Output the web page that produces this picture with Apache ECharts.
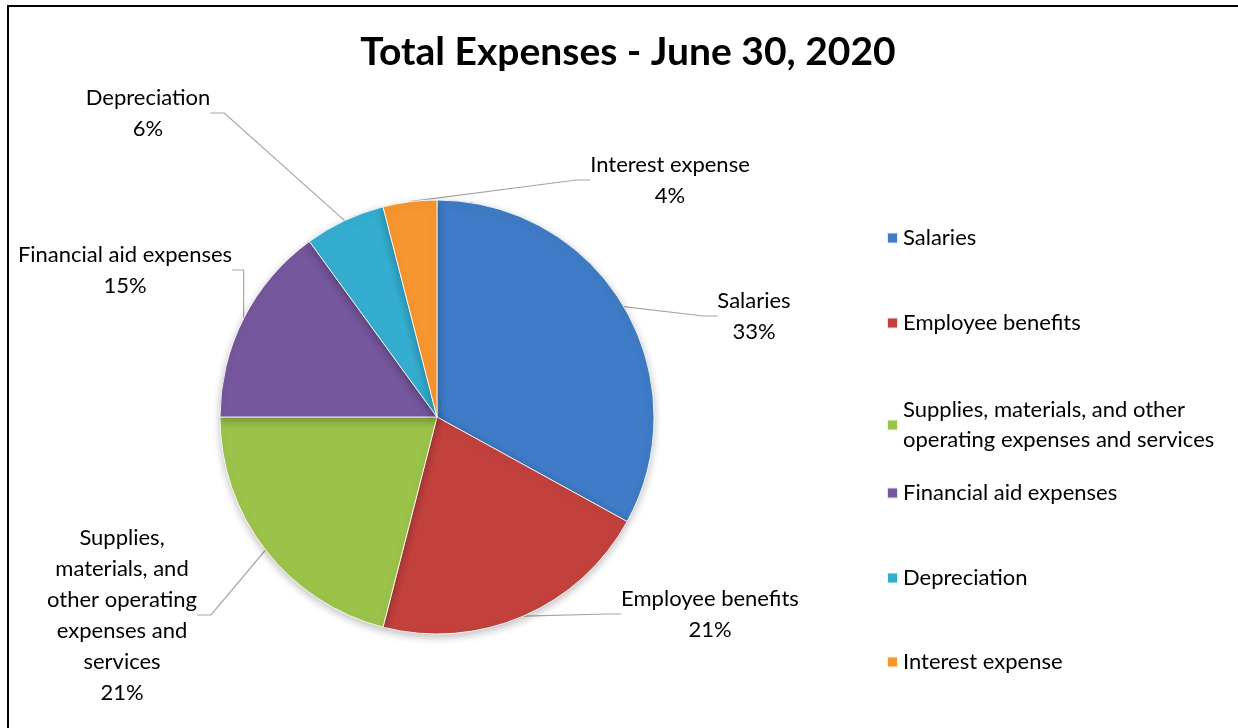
<!DOCTYPE html>
<html>
<head>
<meta charset="utf-8">
<script src="https://cdn.jsdelivr.net/npm/echarts@6/dist/echarts.min.js"></script>
<style>
  html, body { margin: 0; padding: 0; background: #fff; }
  #frame { position: absolute; left: 7px; top: 5px; width: 1240px; height: 730px; border-left: 2px solid #000; border-top: 2px solid #000; }
  #chart { position: absolute; left: 0; top: 0; width: 1238px; height: 728px; }
</style>
</head>
<body>
<div id="frame"></div>
<div id="chart"></div>
<script>
const titleText = 'Total Expenses - June 30, 2020';
const categories = [
  'Salaries',
  'Employee benefits',
  'Supplies, materials, and other operating expenses and services',
  'Financial aid expenses',
  'Depreciation',
  'Interest expense'
];
const values = [33, 21, 21, 15, 6, 4];
const legendLabels = [
  'Salaries',
  'Employee benefits',
  'Supplies, materials, and other\noperating expenses and services',
  'Financial aid expenses',
  'Depreciation',
  'Interest expense'
];
const sliceLabels = [
  'Salaries',
  'Employee benefits',
  'Supplies,\nmaterials, and\nother operating\nexpenses and\nservices',
  'Financial aid expenses',
  'Depreciation',
  'Interest expense'
];
const colors = ['#3f7bc6', '#c2413d', '#9bc34a', '#76579d', '#35add0', '#f7962f'];

const FONT = 'Lato';
const chart = echarts.init(document.getElementById('chart'));

// layout of label blocks (centres) and legend rows
const labelCentres = [[754, 316], [710, 614], [122, 615], [125, 270], [148, 113], [670, 180]];
const legendTops = [223, 308, 395, 478, 563, 647];

const legends = categories.map((name, i) => ({
  data: [name],
  left: 886,
  top: legendTops[i],
  padding: 0,
  orient: 'vertical',
  icon: 'rect',
  itemWidth: 11,
  itemHeight: 11,
  selectedMode: false,
  formatter: (n) => legendLabels[categories.indexOf(n)],
  textStyle: { fontFamily: FONT, fontSize: 22, color: '#000', lineHeight: 30 }
}));

const option = {
  animation: false,
  color: colors,
  title: {
    text: titleText,
    left: 623,
    top: 28,
    textAlign: 'center',
    textStyle: { fontFamily: FONT, fontSize: 39, fontWeight: 'bold', color: '#000' }
  },
  legend: legends,
  series: [{
    type: 'pie',
    center: [437, 417],
    radius: 217,
    startAngle: 90,
    clockwise: true,
    avoidLabelOverlap: false,
    data: categories.map((name, i) => ({ name: name, value: values[i] })),
    itemStyle: {
      borderColor: 'rgba(255,255,255,0.85)',
      borderWidth: 1,
      shadowBlur: 8,
      shadowColor: 'rgba(0,0,0,0.25)',
      shadowOffsetY: 3
    },
    label: {
      show: true,
      position: 'outside',
      fontFamily: FONT,
      fontSize: 22,
      lineHeight: 31,
      color: '#000',
      formatter: (p) => sliceLabels[p.dataIndex] + '\n' + Math.round(p.percent) + '%'
    },
    labelLine: {
      show: true,
      length: 10,
      length2: 14,
      lineStyle: { color: '#a6a6a6', width: 1.2 }
    },
    labelLayout: (params) => {
      const c = labelCentres[params.dataIndex];
      return { x: c[0], y: c[1], align: 'center', verticalAlign: 'middle' };
    },
    emphasis: { disabled: true }
  }]
};
chart.setOption(option);
</script>
</body>
</html>
